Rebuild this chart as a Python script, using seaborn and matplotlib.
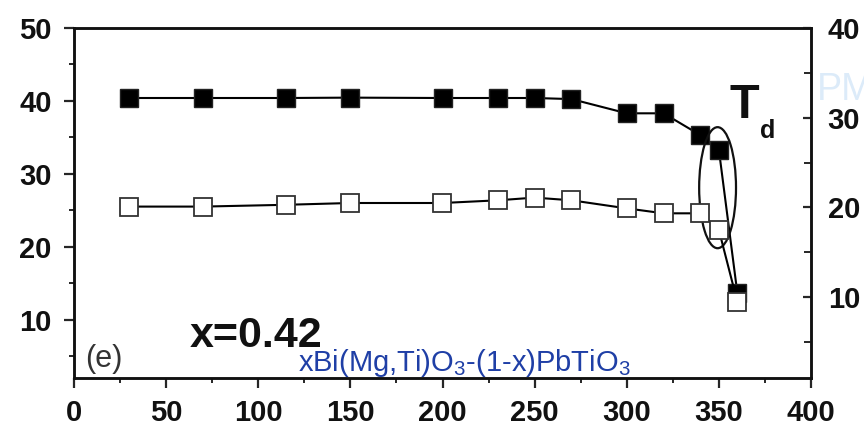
import matplotlib
matplotlib.use("Agg")
import matplotlib.pyplot as plt
from matplotlib.patches import Ellipse
from matplotlib.ticker import MultipleLocator
import seaborn as sns
import pandas as pd

# Temperatures (x) shared by both series
temperature = [30, 70, 115, 150, 200, 230, 250, 270, 300, 320, 340, 350, 360]
# Left-axis series (filled squares)
filled_vals = [40.4, 40.4, 40.4, 40.45, 40.4, 40.4, 40.4, 40.25, 38.3, 38.3, 35.3, 33.3, 13.7]
# Right-axis series (open squares)
open_vals = [20.1, 20.1, 20.3, 20.5, 20.5, 20.8, 21.1, 20.8, 19.9, 19.35, 19.35, 17.5, 9.5]

x_ticks = [0, 50, 100, 150, 200, 250, 300, 350, 400]
left_ticks = [10, 20, 30, 40, 50]
right_ticks = [10, 20, 30, 40]

sns.set_style("ticks")
plt.rcParams["font.family"] = ["Liberation Sans", "DejaVu Sans"]
plt.rcParams["mathtext.fontset"] = "custom"
plt.rcParams["mathtext.rm"] = "Liberation Sans"
plt.rcParams["mathtext.it"] = "Liberation Sans:italic"
plt.rcParams["mathtext.bf"] = "Liberation Sans:bold"

fig = plt.figure(figsize=(8.64, 4.30), dpi=100)
ax = fig.add_axes([74 / 864, 1 - 378 / 430, (811 - 74) / 864, (378 - 28) / 430])
ax2 = ax.twinx()

df = pd.DataFrame({"T": temperature, "filled": filled_vals, "open": open_vals})

sns.lineplot(data=df, x="T", y="filled", ax=ax, color="black", linewidth=1.5,
             marker="s", markersize=13.5, markerfacecolor="black",
             markeredgecolor="#222222", markeredgewidth=1.0)
sns.lineplot(data=df, x="T", y="open", ax=ax2, color="black", linewidth=1.5,
             marker="s", markersize=13, markerfacecolor="white",
             markeredgecolor="#333333", markeredgewidth=1.3)

ax.set_xlim(0, 400)
ax.set_ylim(2, 50)
ax2.set_ylim(1, 40)

ax.set_xticks(x_ticks)
ax.set_yticks(left_ticks)
ax2.set_yticks(right_ticks)
ax.xaxis.set_minor_locator(MultipleLocator(25))
ax.yaxis.set_minor_locator(MultipleLocator(5))
ax2.yaxis.set_minor_locator(MultipleLocator(5))

ax.set_xlabel("")
ax.set_ylabel("")
ax2.set_ylabel("")

for a in (ax, ax2):
    for s in a.spines.values():
        s.set_linewidth(1.8)
        s.set_color("#111111")
        s.set_visible(True)

ax.tick_params(axis="x", which="major", direction="out", length=7, width=1.6,
               pad=8, labelsize=21, top=False)
ax.tick_params(axis="x", which="minor", direction="out", length=3.5, width=1.4, top=False)
ax.tick_params(axis="y", which="major", direction="out", length=7, width=1.6,
               pad=9, labelsize=21, right=False)
ax.tick_params(axis="y", which="minor", direction="out", length=3.5, width=1.4, right=False)
ax2.tick_params(axis="y", which="major", direction="in", length=6, width=1.6,
                pad=12, labelsize=21, left=False)
ax2.tick_params(axis="y", which="minor", direction="in", length=5, width=1.4, left=False)
for lbl in ax.get_xticklabels() + ax.get_yticklabels() + ax2.get_yticklabels():
    lbl.set_fontweight("bold")
    lbl.set_color("#111111")

# Marking the drop near T_d
ax.add_patch(Ellipse((349.3, 28.1), width=20, height=16.6, fill=False,
                     edgecolor="#111111", linewidth=1.6, zorder=5))

ax.text(356, 37.65, "T", fontsize=35, fontweight="bold", color="#111111",
        ha="left", va="baseline")
ax.text(372.3, 34.9, "d", fontsize=18, fontweight="bold", color="#111111",
        ha="left", va="baseline")
ax.text(63, 6.24, "x=0.42", fontsize=31, fontweight="bold", color="#111111",
        ha="left", va="baseline")
ax.text(6, 3.5, "(e)", fontsize=22, color="#333333", ha="left", va="baseline")
ax.text(121.6, 2.99, r"xBi(Mg,Ti)O$_\mathregular{3}$-(1-x)PbTiO$_\mathregular{3}$",
        fontsize=21, color="#1f3fa6", ha="left", va="baseline", zorder=6)

fig.text(817 / 864, 1 - 100 / 430, "PM", fontsize=27, color="#dcebf9",
         ha="left", va="baseline")

fig.savefig("out.png", dpi=100)
